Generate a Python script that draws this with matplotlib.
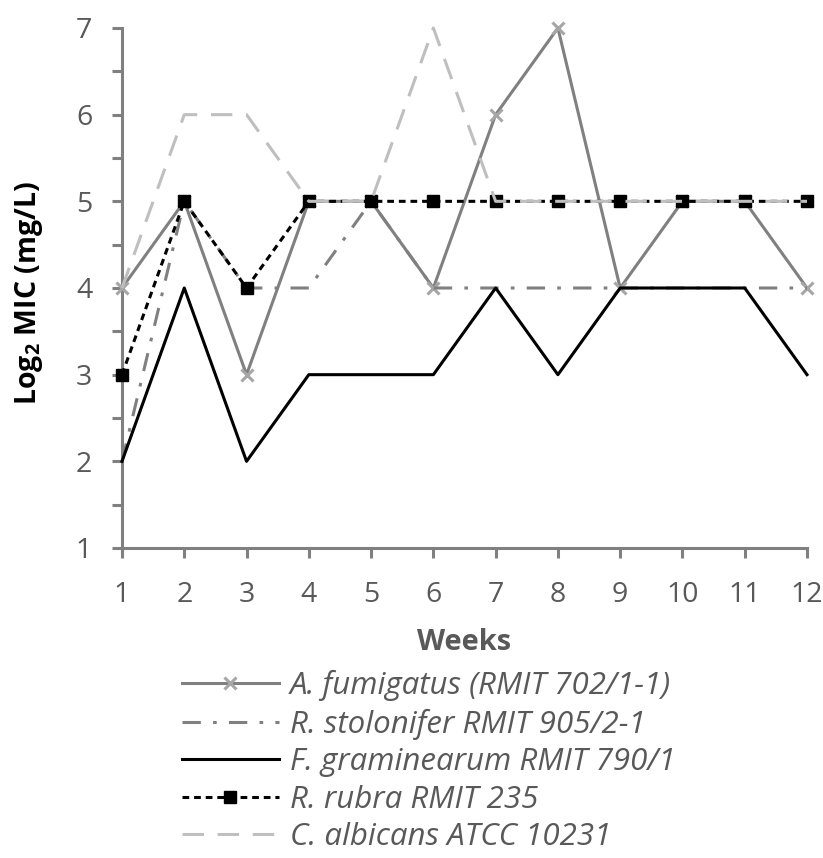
import matplotlib
matplotlib.use("Agg")
import matplotlib.pyplot as plt
from matplotlib.ticker import MultipleLocator

plt.rcParams['font.family'] = ['Open Sans', 'DejaVu Sans']
plt.rcParams['mathtext.fontset'] = 'custom'
plt.rcParams['mathtext.rm'] = 'Open Sans'
plt.rcParams['mathtext.bf'] = 'Open Sans:bold'

weeks = [1, 2, 3, 4, 5, 6, 7, 8, 9, 10, 11, 12]
a_fumigatus = [4, 5, 3, 5, 5, 4, 6, 7, 4, 5, 5, 4]
r_stolonifer = [2, 5, 4, 4, 5, 4, 4, 4, 4, 4, 4, 4]
f_graminearum = [2, 4, 2, 3, 3, 3, 4, 3, 4, 4, 4, 3]
r_rubra = [3, 5, 4, 5, 5, 5, 5, 5, 5, 5, 5, 5]
c_albicans = [4, 6, 6, 5, 5, 7, 5, 5, 5, 5, 5, 5]

labels = ["A. fumigatus (RMIT 702/1-1)",
          "R. stolonifer RMIT 905/2-1",
          "F. graminearum RMIT 790/1",
          "R. rubra RMIT 235",
          "C. albicans ATCC 10231"]

W, H = 823, 858
fig = plt.figure(figsize=(W / 100, H / 100), dpi=100)
ax = fig.add_axes([122 / W, 1 - 548 / H, (807 - 122) / W, (548 - 28) / H])

lw = 2.2
ax.plot(weeks, a_fumigatus, color='#808080', lw=lw, marker='x', ms=9,
        mec='#A6A6A6', mew=2.2, label=labels[0], clip_on=False, zorder=3)
ax.plot(weeks, r_stolonifer, color='#808080', lw=lw, dashes=(6, 4, 1.2, 4),
        label=labels[1], clip_on=False, zorder=4)
ax.plot(weeks, f_graminearum, color='black', lw=lw, label=labels[2],
        clip_on=False, zorder=5)
ax.plot(weeks, r_rubra, color='black', lw=lw, dashes=(2.2, 1.6), marker='s',
        ms=8.5, mfc='black', mec='black', label=labels[3], clip_on=False, zorder=6)
ax.plot(weeks, c_albicans, color='#BFBFBF', lw=lw, dashes=(7, 4.5),
        label=labels[4], clip_on=False, zorder=7)

ax.set_xlim(1, 12)
ax.set_ylim(1, 7)
ax.set_xticks(weeks)
ax.yaxis.set_major_locator(MultipleLocator(1))
ax.yaxis.set_minor_locator(MultipleLocator(0.5))

for s in ['top', 'right']:
    ax.spines[s].set_visible(False)
for s in ['left', 'bottom']:
    ax.spines[s].set_color('#808080')
    ax.spines[s].set_linewidth(2.2)

ax.tick_params(axis='both', which='both', color='#808080', width=2.2,
               length=7.5, labelsize=20.5, labelcolor='#595959', direction='out')
ax.tick_params(axis='y', pad=14)
ax.tick_params(axis='x', pad=16)

ax.set_ylabel(r'Log$_\mathbf{2}$ MIC (mg/L)', fontsize=20.5, fontweight='bold',
              color='black')
ax.yaxis.set_label_coords(-(122 - 29) / (807 - 122), (548 - 293) / (548 - 28))
ax.set_xlabel('Weeks', fontsize=21, fontweight='bold', color='#595959')
ax.xaxis.set_label_coords(0.5, -(642 - 548) / (548 - 28))
ax.yaxis.label.set_va('center')
ax.xaxis.label.set_va('center')

leg = fig.legend(loc='upper left', bbox_to_anchor=(182 / W, 1 - 670 / H),
                 frameon=False, prop={'style': 'italic', 'size': 22.5},
                 handlelength=3.1, handletextpad=0.36, labelspacing=0.24,
                 borderpad=0, borderaxespad=0)
for t in leg.get_texts():
    t.set_color('#595959')

fig.savefig('out.png', dpi=100)
